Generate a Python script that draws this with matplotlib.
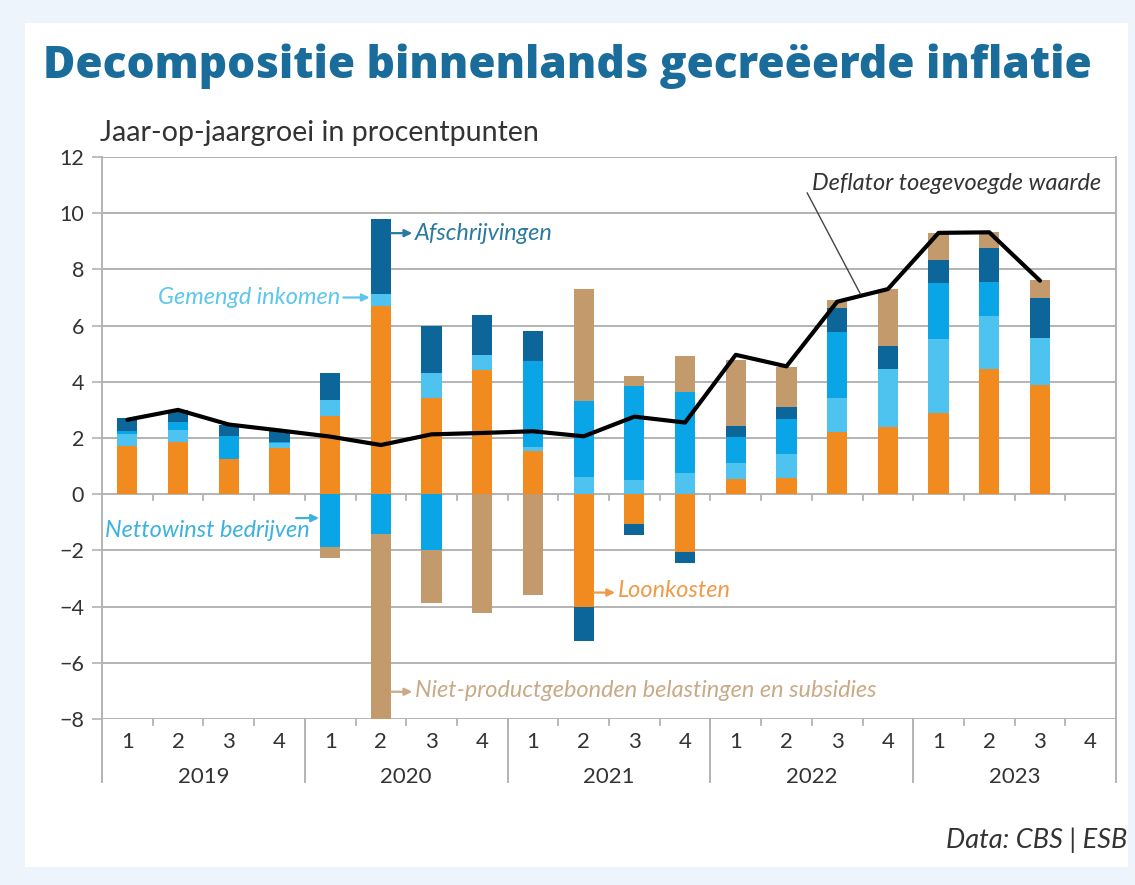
import numpy as np
import matplotlib
matplotlib.use("Agg")
import matplotlib.pyplot as plt
from matplotlib.patches import Rectangle
import matplotlib.transforms as mtransforms

# ---------------- data ----------------
years = ["2019", "2020", "2021", "2022", "2023"]
quarter_labels = ["1", "2", "3", "4"] * 5

loonkosten = [1.70, 1.87, 1.25, 1.63, 2.79, 6.69, 3.42, 4.43, 1.55, -4.02,
              -1.07, -2.06, 0.55, 0.56, 2.23, 2.40, 2.90, 4.45, 3.89, np.nan]
gemengd = [0.45, 0.42, 0.00, 0.18, 0.57, 0.45, 0.91, 0.53, 0.14, 0.62,
           0.50, 0.74, 0.57, 0.87, 1.19, 2.05, 2.62, 1.88, 1.67, np.nan]
nettowinst = [0.10, 0.29, 0.82, 0.05, -1.88, -1.40, -1.98, 0.00, 3.04, 2.71,
              3.36, 2.91, 0.90, 1.24, 2.34, 0.00, 2.00, 1.22, 0.00, np.nan]
afschrijvingen = [0.45, 0.42, 0.39, 0.38, 0.95, 2.65, 1.67, 1.43, 1.07, -1.22,
                  -0.39, -0.38, 0.41, 0.45, 0.87, 0.84, 0.81, 1.22, 1.43, np.nan]
belastingen = [0.00, 0.00, 0.00, 0.00, -0.38, -6.60, -1.89, -4.23, -3.57, 3.96,
               0.33, 1.28, 2.36, 1.40, 0.27, 2.02, 0.98, 0.56, 0.63, np.nan]
deflator = [2.65, 3.00, 2.48, 2.27, 2.05, 1.75, 2.13, 2.18, 2.24, 2.06,
            2.76, 2.55, 4.96, 4.55, 6.85, 7.30, 9.30, 9.32, 7.60]

series_names = ["Loonkosten", "Gemengd inkomen", "Nettowinst bedrijven",
                "Afschrijvingen", "Niet-productgebonden belastingen en subsidies"]
series = [loonkosten, gemengd, nettowinst, afschrijvingen, belastingen]
colors = ["#f28b1f", "#4fc3ef", "#0aa5e6", "#0d6699", "#c29a6c"]
label_colors = ["#ef9a48", "#5cc6ee", "#3bb2e0", "#2a7aa0", "#c9aa86"]

title = "Decompositie binnenlands gecreëerde inflatie"
subtitle = "Jaar-op-jaargroei in procentpunten"
source = "Data: CBS | ESB"

# ---------------- figure ----------------
W, H = 1135, 885
fig = plt.figure(figsize=(W / 100, H / 100), dpi=100)
fig.patch.set_facecolor("#edf4fb")
fig.add_artist(Rectangle((25 / W, 1 - 867 / H), (1128 - 25) / W, (867 - 23) / H,
                         transform=fig.transFigure, facecolor="white",
                         edgecolor="none", zorder=0))

ax_left, ax_right, ax_top, ax_bot = 102, 1116, 157, 719
ax = fig.add_axes([ax_left / W, 1 - ax_bot / H, (ax_right - ax_left) / W,
                   (ax_bot - ax_top) / H])
ax.set_facecolor("none")

n = len(quarter_labels)
x = np.arange(n)
grid_c = "#b3b3b3"
text_c = "#333333"
base_font = ["Lato", "DejaVu Sans"]

# stacked bars (positive and negative stacks separately)
pos_base = np.zeros(n)
neg_base = np.zeros(n)
for vals, c in zip(series, colors):
    v = np.nan_to_num(np.array(vals, dtype=float))
    pos = np.where(v > 0, v, 0)
    neg = np.where(v < 0, v, 0)
    ax.bar(x, pos, bottom=pos_base, width=0.4, color=c, zorder=3, linewidth=0)
    ax.bar(x, neg, bottom=neg_base, width=0.4, color=c, zorder=3, linewidth=0)
    pos_base += pos
    neg_base += neg

ax.plot(np.arange(len(deflator)), deflator, color="black", lw=3.0, zorder=5,
        solid_joinstyle="round", solid_capstyle="round")

ax.set_xlim(-0.5, n - 0.5)
ax.set_ylim(-8, 12)
ax.set_yticks(np.arange(-8, 13, 2))
ax.set_yticklabels(["−8", "−6", "−4", "−2", "0", "2", "4", "6", "8", "10", "12"],
                   fontsize=15.5, color=text_c, family=base_font)
ax.yaxis.grid(True, color=grid_c, lw=1.4, zorder=1)
ax.set_axisbelow(True)
ax.tick_params(axis="y", length=7, width=1.2, color=grid_c, pad=6)

ax.set_xticks(x)
ax.set_xticklabels(quarter_labels, fontsize=16, color=text_c, family=base_font)
ax.tick_params(axis="x", length=0, pad=9)

for side in ["top", "bottom"]:
    ax.spines[side].set_visible(False)
for side in ["left", "right"]:
    ax.spines[side].set_color(grid_c)
    ax.spines[side].set_linewidth(1.4)

# small ticks at quarter boundaries on the 0 line and the bottom line
trans = mtransforms.blended_transform_factory(ax.transData, ax.transAxes)
for b in np.arange(0.5, n - 0.5, 1.0):
    for y0 in (0, -8):
        ax.plot([b, b], [y0, y0 - 0.22], color=grid_c, lw=1.3, zorder=2,
                clip_on=False)

# year separators and labels
ax_h = ax_bot - ax_top
for k in range(len(years) + 1):
    b = -0.5 + 4 * k
    ax.plot([b, b], [0, -(782 - ax_bot) / ax_h], transform=trans, color=grid_c,
            lw=1.4, clip_on=False, zorder=2)
for k, yr in enumerate(years):
    ax.text(1.5 + 4 * k, -(777 - ax_bot) / ax_h, yr, transform=trans,
            ha="center", va="center", fontsize=16, color=text_c,
            family=base_font)

# ---------------- annotations ----------------
afont = dict(family=base_font, style="italic", fontsize=16.9)
arrow = dict(arrowstyle="-|>,head_length=0.45,head_width=0.22", lw=1.6,
             shrinkA=0, shrinkB=0)


def arr(x0, x1, y, c):
    ax.annotate("", xy=(x1, y), xytext=(x0, y),
                arrowprops=dict(color=c, **arrow), zorder=6)


# Afschrijvingen
arr(5.2, 5.62, 9.29, label_colors[3])
ax.text(5.67, 9.29, series_names[3], color=label_colors[3], va="center",
        ha="left", **afont)
# Gemengd inkomen
arr(4.26, 4.78, 7.0, label_colors[1])
ax.text(4.2, 7.0, series_names[1], color=label_colors[1], va="center",
        ha="right", **afont)
# Nettowinst bedrijven
arr(3.33, 3.78, -0.85, label_colors[2])
ax.text(3.6, -1.3, series_names[2], color=label_colors[2], va="center",
        ha="right", **afont)
# Loonkosten
arr(9.2, 9.62, -3.5, label_colors[0])
ax.text(9.67, -3.42, series_names[0], color=label_colors[0], va="center",
        ha="left", **afont)
# Niet-productgebonden ...
arr(5.2, 5.62, -7.03, label_colors[4])
ax.text(5.67, -6.97, series_names[4], color=label_colors[4], va="center",
        ha="left", **afont)
# Deflator
ax.plot([13.41, 14.46], [10.72, 7.12], color="#444444", lw=1.0, zorder=6)
ax.text(13.51, 11.05, "Deflator toegevoegde waarde", color=text_c,
        va="center", ha="left", **afont)

# ---------------- titles ----------------
renderer = fig.canvas.get_renderer()


def fit(t, target_px):
    for _ in range(3):
        w = t.get_window_extent(renderer).width
        t.set_fontsize(t.get_fontsize() * target_px / w)


tt = fig.text(43 / W, 1 - 66 / H, title, fontsize=34, fontweight="heavy",
              family=["Open Sans", "DejaVu Sans"], color="#1a6d9b",
              ha="left", va="center")
fit(tt, 1052)
st = fig.text(100 / W, 1 - 133 / H, subtitle, fontsize=17,
              family=base_font, color=text_c, ha="left", va="center")
fit(st, 437)
fig.text(1127 / W, 1 - 840 / H, source, fontsize=19.5,
         family=base_font, style="italic", color=text_c,
         ha="right", va="center")

fig.savefig("out.png", dpi=100, facecolor=fig.get_facecolor())
